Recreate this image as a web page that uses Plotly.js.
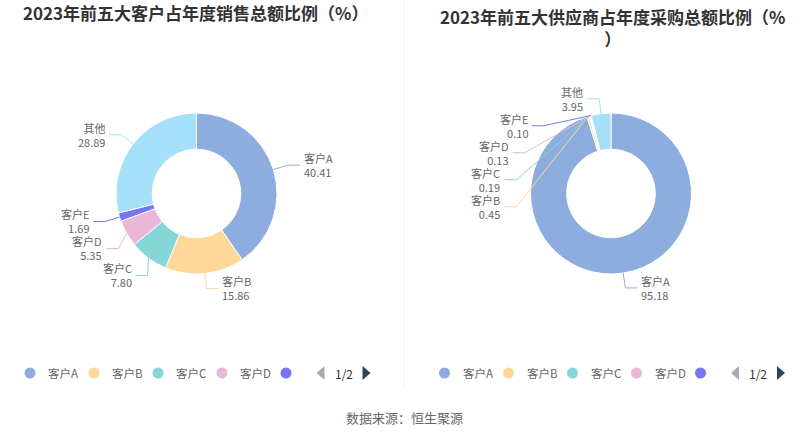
<!DOCTYPE html>
<html>
<head>
<meta charset="utf-8">
<script src="https://cdn.plot.ly/plotly-3.0.1.min.js"></script>
<style>
  html, body { margin: 0; padding: 0; background: #fff; }
  #chart { width: 807px; height: 436px; }
</style>
</head>
<body>
<div id="chart"></div>
<script>
const customerNames = ["客户A", "客户B", "客户C", "客户D", "客户E", "其他"];
const customerShares = [40.41, 15.86, 7.80, 5.35, 1.69, 28.89];

const supplierNames = ["客户A", "客户B", "客户C", "客户D", "客户E", "其他"];
const supplierShares = [95.18, 0.45, 0.19, 0.13, 0.10, 3.95];

const leftTitle = "2023年前五大客户占年度销售总额比例（%）";
const rightTitle = "2023年前五大供应商占年度采购总额比例（%<br>）";
const sourceText = "数据来源：恒生聚源";

const sliceColors = ["#8cadde", "#ffd899", "#85d6d6", "#e8b7da", "#7576f4", "#a6e0f8"];

const W = 807;
const H = 436;
const FONT = "'Noto Sans CJK SC', 'Microsoft YaHei', sans-serif";

function px(x) { return x / W; }
function py(y) { return 1 - y / H; }

const shapes = [];
const annotations = [];

function buildDonut(names, values, cx, cy, r) {
  const total = values.reduce((a, b) => a + b, 0);
  const R = r + 15;
  const len2 = 12;
  const gap = 27;

  // default label spots from each slice's mid angle
  let cum = 0;
  const labels = values.map((v, i) => {
    const ang = (cum + v / 2) / total * 2 * Math.PI;
    cum += v;
    const s = Math.sin(ang);
    const c = Math.cos(ang);
    return {
      i: i,
      side: s >= 0 ? 1 : -1,
      x0: cx + r * s,
      y0: cy - r * c,
      y: cy - R * c
    };
  });

  // push overlapping labels apart on each side
  [1, -1].forEach(side => {
    const group = labels.filter(l => l.side === side).sort((a, b) => a.y - b.y);
    for (let k = 1; k < group.length; k++) {
      if (group[k].y < group[k - 1].y + gap) {
        group[k].y = group[k - 1].y + gap;
      }
    }
  });

  labels.forEach(l => {
    const dy = l.y - cy;
    const dx = Math.sqrt(Math.max(R * R - dy * dy, 0));
    const xe = cx + l.side * dx;
    const x2 = xe + l.side * len2;
    shapes.push({
      type: "path",
      xref: "paper",
      yref: "paper",
      path: "M " + px(l.x0) + "," + py(l.y0) + " L " + px(xe) + "," + py(l.y) + " L " + px(x2) + "," + py(l.y),
      line: { color: sliceColors[l.i], width: 1 }
    });
    const anchor = l.side > 0 ? "left" : "right";
    annotations.push({
      xref: "paper", yref: "paper",
      x: px(x2 + l.side * 3), y: py(l.y),
      xanchor: anchor, yanchor: "middle",
      align: anchor,
      text: names[l.i] + "<br>" + values[l.i].toFixed(2),
      showarrow: false,
      borderpad: 0,
      font: { family: FONT, size: 11, color: "#666" }
    });
  });

  // legend row (first page)
  const legendY = 373;
  const startX = cx - 166.5;
  for (let i = 0; i < 5; i++) {
    const lx = startX + 64 * i;
    shapes.push({
      type: "circle",
      xref: "paper", yref: "paper",
      x0: px(lx - 5.5), x1: px(lx + 5.5),
      y0: py(legendY + 5.5), y1: py(legendY - 5.5),
      fillcolor: sliceColors[i],
      line: { width: 0 }
    });
    if (i < 4) {
      annotations.push({
        xref: "paper", yref: "paper",
        x: px(lx + 16), y: py(legendY),
        xanchor: "left", yanchor: "middle",
        text: names[i],
        showarrow: false,
        font: { family: FONT, size: 11.5, color: "#666" }
      });
    }
  }
  const pl = cx + 124;
  const pr = cx + 170;
  shapes.push({
    type: "path", xref: "paper", yref: "paper",
    path: "M " + px(pl + 4) + "," + py(legendY - 7) + " L " + px(pl - 4) + "," + py(legendY) + " L " + px(pl + 4) + "," + py(legendY + 7) + " Z",
    fillcolor: "#aaaaaa", line: { width: 0 }
  });
  shapes.push({
    type: "path", xref: "paper", yref: "paper",
    path: "M " + px(pr - 4) + "," + py(legendY - 7) + " L " + px(pr + 4) + "," + py(legendY) + " L " + px(pr - 4) + "," + py(legendY + 7) + " Z",
    fillcolor: "#2f4554", line: { width: 0 }
  });
  annotations.push({
    xref: "paper", yref: "paper",
    x: px(cx + 147), y: py(legendY),
    xanchor: "center", yanchor: "middle",
    text: "1/2",
    showarrow: false,
    font: { family: FONT, size: 12, color: "#333" }
  });

  return {
    type: "pie",
    labels: names,
    values: values,
    sort: false,
    direction: "clockwise",
    rotation: 0,
    hole: 0.55,
    textinfo: "none",
    hoverinfo: "label+value",
    showlegend: false,
    marker: { colors: sliceColors, line: { color: "#fff", width: 1 } },
    domain: {
      x: [px(cx - r), px(cx + r)],
      y: [py(cy + r), py(cy - r)]
    }
  };
}

const traces = [
  buildDonut(customerNames, customerShares, 196.5, 193.5, 80.5),
  buildDonut(supplierNames, supplierShares, 611, 193.5, 80.5)
];

// divider between the two panels
shapes.push({
  type: "line", xref: "paper", yref: "paper",
  x0: px(404), x1: px(404), y0: py(0), y1: py(386),
  line: { color: "#f0f0f0", width: 1 }
});

annotations.push({
  xref: "paper", yref: "paper",
  x: px(196), y: py(13), xanchor: "center", yanchor: "middle",
  text: "<b>" + leftTitle + "</b>", showarrow: false,
  font: { family: FONT, size: 17, color: "#333" }
});
annotations.push({
  xref: "paper", yref: "paper",
  x: px(613), y: py(2), xanchor: "center", yanchor: "top",
  text: "<b>" + rightTitle + "</b>", showarrow: false,
  font: { family: FONT, size: 17, color: "#333" }
});
annotations.push({
  xref: "paper", yref: "paper",
  x: px(404), y: py(417), xanchor: "center", yanchor: "middle",
  text: sourceText, showarrow: false,
  font: { family: FONT, size: 13, color: "#666" }
});

Plotly.newPlot("chart", traces, {
  width: W,
  height: H,
  margin: { l: 0, r: 0, t: 0, b: 0 },
  paper_bgcolor: "#fff",
  showlegend: false,
  shapes: shapes,
  annotations: annotations
}, { displayModeBar: false, staticPlot: true });
</script>
</body>
</html>
